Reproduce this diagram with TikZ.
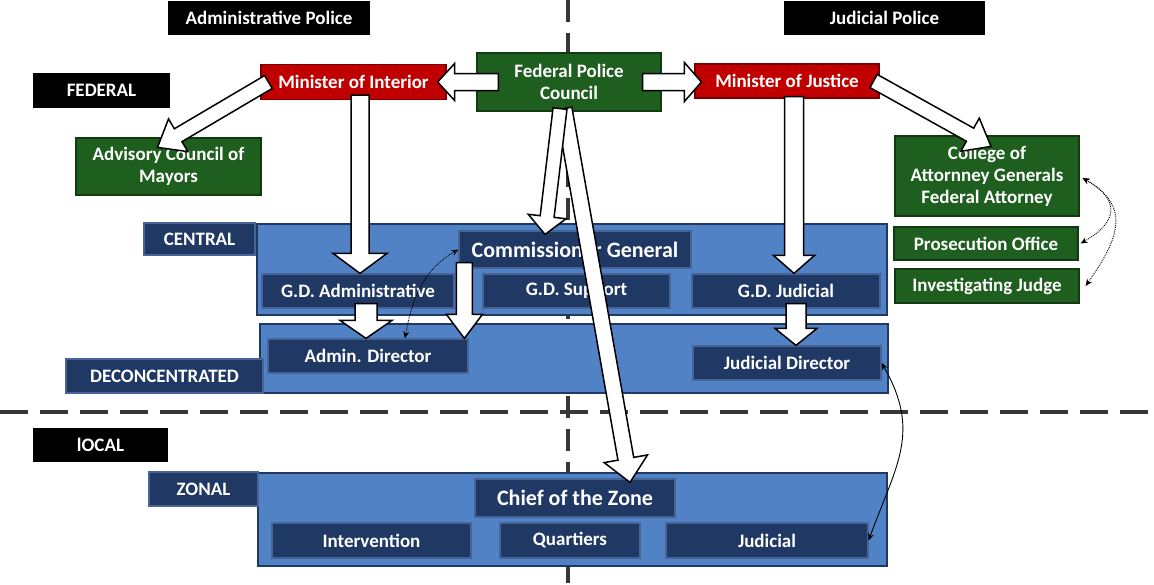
\documentclass[tikz,border=0pt]{standalone}
\usepackage{fontspec}
\setmainfont{Carlito}
\usetikzlibrary{calc,arrows.meta}
\definecolor{navyc}{RGB}{31,56,100}
\definecolor{navyb}{RGB}{70,100,150}
\definecolor{panelc}{RGB}{82,130,198}
\definecolor{grnc}{RGB}{30,94,30}
\definecolor{grnb}{RGB}{18,58,18}
\definecolor{redc}{RGB}{192,0,0}
\definecolor{redb}{RGB}{120,0,0}
\definecolor{dashc}{RGB}{55,55,55}
\tikzset{
  base/.style={inner sep=0pt, align=center, text=white, font=\fontsize{19}{22}\selectfont\bfseries, line width=1.2pt},
  bigfont/.style={font=\fontsize{22}{26}\selectfont\bfseries},
  blkbox/.style={base, fill=black},
  navybox/.style={base, fill=navyc, draw=navyb},
  grnbox/.style={base, fill=grnc, draw=grnb},
  redbox/.style={base, fill=redc, draw=redb},
  panelbox/.style={fill=panelc, draw=navyc, line width=1.5pt, inner sep=0pt},
  sz/.style 2 args={minimum width=#1pt, minimum height=#2pt},
  blockarrow/.style={fill=white, draw=black, line width=1.5pt, line join=miter},
  thincurve/.style={draw=black, line width=0.9pt, {Stealth[length=7pt,width=6pt]}-{Stealth[length=7pt,width=6pt]}},
  dashline/.style={draw=dashc, line width=4.5pt},
}
% block arrow: start, end, shaft half width, head half width, head length
\newcommand\barrow[5]{%
  \coordinate (bh) at ($(#2)!#5!(#1)$);
  \draw[blockarrow] ($(#1)!#3!90:(#2)$) -- ($(bh)!#3!-90:(#1)$) -- ($(bh)!#4!-90:(#1)$) -- (#2)
    -- ($(bh)!#4!90:(#1)$) -- ($(bh)!#3!90:(#1)$) -- ($(#1)!#3!-90:(#2)$) -- cycle;
}
\begin{document}
\begin{tikzpicture}[x=1pt,y=1pt]
\useasboundingbox (0,0) rectangle (1154,-584);
\fill[white] (0,0) rectangle (1154,-584);

% dashed separators
\coordinate (vt) at (568,0);
\coordinate (vb) at (568,-584);
\coordinate (hl) at (0,-412);
\coordinate (hr) at (1154,-412);
\draw[dashline, dash pattern=on 22pt off 11pt] (vt) -- (vb);
\draw[dashline, dash pattern=on 28pt off 12pt] (hl) -- (hr);

% panels
\node[panelbox, sz={630}{91}] (cpanel) at (572,-269.5) {};
\node[panelbox, sz={628}{69}] (dpanel) at (574,-358.5) {};
\node[panelbox, sz={629}{93}] (zpanel) at (572.5,-519.5) {};

% black labels
\node[blkbox, sz={202}{34}] (adm) at (269,-18) {Administrative Police};
\node[blkbox, sz={201}{34}] (jud) at (884.5,-18) {Judicial Police};
\node[blkbox, sz={137}{35}] (fed) at (101.5,-90.5) {FEDERAL};
\node[blkbox, sz={135}{34}] (loc) at (100.5,-445) {lOCAL};

% navy labels
\node[navybox, sz={111}{32}] (central) at (199.5,-239) {CENTRAL};
\node[navybox, sz={197}{34}] (deconc) at (164.5,-376) {DECONCENTRATED};
\node[navybox, sz={109}{34}] (zonal) at (203.5,-489) {ZONAL};

% inner boxes
\node[navybox, bigfont, sz={232}{37}] (comm) at (575,-249.5) {Commissioner General};
\node[navybox, sz={192}{34}] (gda) at (358,-291) {G.D. Administrative};
\node[navybox, sz={187}{34}] (gds) at (576.5,-291) {G.D. Support};
\node[navybox, sz={188}{34}] (gdj) at (786,-291) {G.D. Judicial};
\node[navybox, sz={200}{34}] (admdir) at (368,-356) {Admin. Director};
\node[navybox, sz={188}{34}] (juddir) at (787,-363) {Judicial Director};
\node[navybox, bigfont, sz={200}{38}] (chief) at (575,-498) {Chief of the Zone};
\node[navybox, sz={199}{35}] (interv) at (371.5,-540.5) {Intervention};
\node[navybox, sz={140}{35}] (quart) at (570,-540.5) {Quartiers};
\node[navybox, sz={202}{35}] (judz) at (767,-540.5) {Judicial};

% green boxes
\node[grnbox, sz={184}{58}] (fpc) at (569,-82) {Federal Police\\Council};
\node[grnbox, sz={185}{57}] (acm) at (168.5,-166.5) {Advisory Council of\\Mayors};
\node[grnbox, sz={184}{80}] (col) at (987,-176) {College of\\Attornney Generals\\Federal Attorney};
\node[grnbox, sz={184}{33}] (pros) at (986,-243.5) {Prosecution Office};
\node[grnbox, sz={184}{34}] (inv) at (987,-286) {Investigating Judge};

% red boxes
\node[redbox, sz={185}{35}] (moi) at (353.5,-82) {Minister of Interior};
\node[redbox, sz={184}{34}] (moj) at (787,-81) {Minister of Justice};

% block arrows
\coordinate (a1s) at ($(fpc.west)+(22,0)$);
\coordinate (a1e) at ($(moi.east)+(-9,0)$);
\barrow{a1s}{a1e}{8.5pt}{18.5pt}{17pt}
\coordinate (a2s) at ($(fpc.east)+(-19,0)$);
\coordinate (a2e) at ($(moj.west |- fpc.east)+(7,0)$);
\barrow{a2s}{a2e}{8.5pt}{19.5pt}{17pt}
\coordinate (a3s) at ($(moi.west)+(8,0)$);
\coordinate (a3e) at ($(acm.north)+(-11,-10)$);
\barrow{a3s}{a3e}{7.5pt}{19pt}{24pt}
\coordinate (a4s) at ($(moj.east)+(-6,0)$);
\coordinate (a4e) at ($(col.north)+(4,-11)$);
\barrow{a4s}{a4e}{7.5pt}{19pt}{24pt}
\coordinate (a5s) at ($(moi.south)+(6.5,5)$);
\coordinate (a5e) at (a5s |- gda.north);
\barrow{a5s}{a5e}{9pt}{27pt}{20pt}
\coordinate (a6s) at ($(moj.south)+(7,2)$);
\coordinate (a6e) at (a6s |- gdj.north);
\barrow{a6s}{a6e}{9.5pt}{20.5pt}{18pt}
\coordinate (a7s) at ($(gda.south)+(8,5)$);
\coordinate (a7e) at (a7s |- admdir.north);
\barrow{a7s}{a7e}{11pt}{26pt}{18pt}
\coordinate (a8s) at ($(comm.south west)+(6,6)$);
\coordinate (a8e) at (a8s |- admdir.north);
\barrow{a8s}{a8e}{8pt}{18pt}{24pt}
\coordinate (a9s) at ($(gdj.south)+(10,5)$);
\coordinate (a9e) at (a9s |- juddir.north);
\barrow{a9s}{a9e}{10pt}{21pt}{17pt}
\coordinate (a11s) at ($(fpc.south)+(-5,3)$);
\coordinate (a11e) at ($(chief.north)+(55,-4)$);
\barrow{a11s}{a11e}{8pt}{22pt}{24pt}
\coordinate (a10s) at ($(fpc.south)+(-9,3)$);
\coordinate (a10e) at ($(comm.north)+(-30,-4)$);
\barrow{a10s}{a10e}{7pt}{19pt}{18pt}

% thin curved connectors
\coordinate (c1s) at ($(admdir.north)+(37,0)$);
\draw[thincurve, densely dotted] (c1s) to[out=80,in=210] (comm.west);
\coordinate (c2s) at ($(col.east)+(3,-2)$);
\coordinate (c2p) at ($(pros.east)+(2,0)$);
\coordinate (c2i) at ($(inv.east)+(6,0)$);
\draw[thincurve, densely dotted] (c2s) to[out=-30,in=30,looseness=1.7] (c2p);
\draw[thincurve, densely dotted] (c2s) to[out=-30,in=55,looseness=1.35] (c2i);
\draw[thincurve] (juddir.east) to[out=-60,in=70,looseness=1.15] (judz.east);
\end{tikzpicture}
\end{document}
